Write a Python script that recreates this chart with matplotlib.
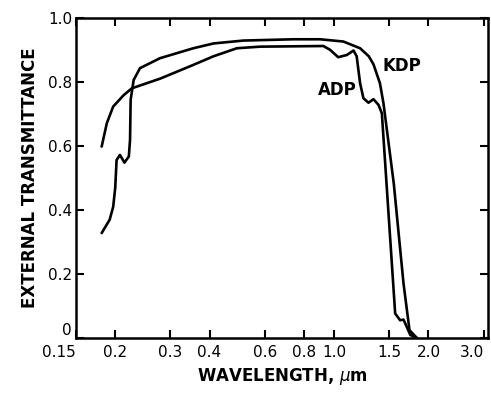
import matplotlib
matplotlib.use("Agg")
import matplotlib.pyplot as plt
from matplotlib.ticker import FixedLocator, NullLocator

# KDP: starts low with wiggle near 0.2 um, smooth outer cutoff
kdp_wl = [0.181, 0.192, 0.197, 0.200, 0.202, 0.207, 0.214, 0.221, 0.223, 0.224, 0.229,
          0.240, 0.278, 0.355, 0.412, 0.513, 0.741, 0.902, 1.07, 1.21, 1.29, 1.335, 1.40,
          1.437, 1.55, 1.665, 1.74, 1.84]
kdp_t = [0.328, 0.37, 0.41, 0.47, 0.556, 0.572, 0.548, 0.567, 0.619, 0.744, 0.806,
         0.843, 0.874, 0.905, 0.92, 0.929, 0.933, 0.933, 0.926, 0.905, 0.88, 0.855, 0.796,
         0.733, 0.483, 0.171, 0.025, 0.0]

# ADP: starts at 0.6, dips near 1.05 and 1.3 um
adp_wl = [0.181, 0.188, 0.197, 0.213, 0.226, 0.278, 0.355, 0.412, 0.489, 0.58, 0.924,
          0.971, 1.03, 1.098, 1.153, 1.18, 1.21, 1.24, 1.287, 1.335, 1.386, 1.42,
          1.566, 1.624, 1.665, 1.706, 1.75, 1.84]
adp_t = [0.598, 0.671, 0.723, 0.759, 0.78, 0.81, 0.853, 0.88, 0.905, 0.91, 0.912,
         0.9, 0.877, 0.884, 0.898, 0.88, 0.796, 0.749, 0.735, 0.746, 0.728, 0.702,
         0.077, 0.056, 0.058, 0.035, 0.01, 0.0]

x_ticks = [0.15, 0.2, 0.3, 0.4, 0.6, 0.8, 1.0, 1.5, 2.0, 3.0]
x_labels = ["0.15", "0.2", "0.3", "0.4", "0.6", "0.8", "1.0", "1.5", "2.0", "3.0"]
y_ticks = [0, 0.2, 0.4, 0.6, 0.8, 1.0]
y_labels = ["0", "0.2", "0.4", "0.6", "0.8", "1.0"]

fig = plt.figure(figsize=(4.91, 4.05), dpi=100)
ax = fig.add_axes([0.155, 0.165, 0.839, 0.791])

ax.plot(kdp_wl, kdp_t, color="black", lw=1.9, solid_capstyle="round", solid_joinstyle="round")
ax.plot(adp_wl, adp_t, color="black", lw=1.9, solid_capstyle="round", solid_joinstyle="round")

ax.set_xscale("log")
ax.set_xlim(0.15, 3.1)
ax.set_ylim(0, 1.0)
ax.xaxis.set_major_locator(FixedLocator(x_ticks))
ax.xaxis.set_minor_locator(NullLocator())
ax.set_xticklabels(x_labels)
ax.set_yticks(y_ticks)
ax.set_yticklabels(y_labels)

ax.tick_params(direction="in", top=True, right=True, length=6, width=1.5,
               labelsize=11)
ax.tick_params(axis="x", pad=5)
ax.tick_params(axis="y", pad=3)
xl = ax.get_xticklabels()
xl[0].set_horizontalalignment("right")
xl[-1].set_horizontalalignment("right")
yl = ax.get_yticklabels()
yl[0].set_verticalalignment("bottom")
for s in ax.spines.values():
    s.set_linewidth(1.8)

ax.text(1.02, 0.775, "ADP", fontsize=12, fontweight="bold", ha="center", va="center")
ax.text(1.65, 0.85, "KDP", fontsize=12, fontweight="bold", ha="center", va="center")

ax.set_xlabel("WAVELENGTH, $\\mu$m", fontsize=12, fontweight="bold", labelpad=4)
ax.set_ylabel("EXTERNAL TRANSMITTANCE", fontsize=12, fontweight="bold", labelpad=6)

fig.savefig("out.png", dpi=100)
